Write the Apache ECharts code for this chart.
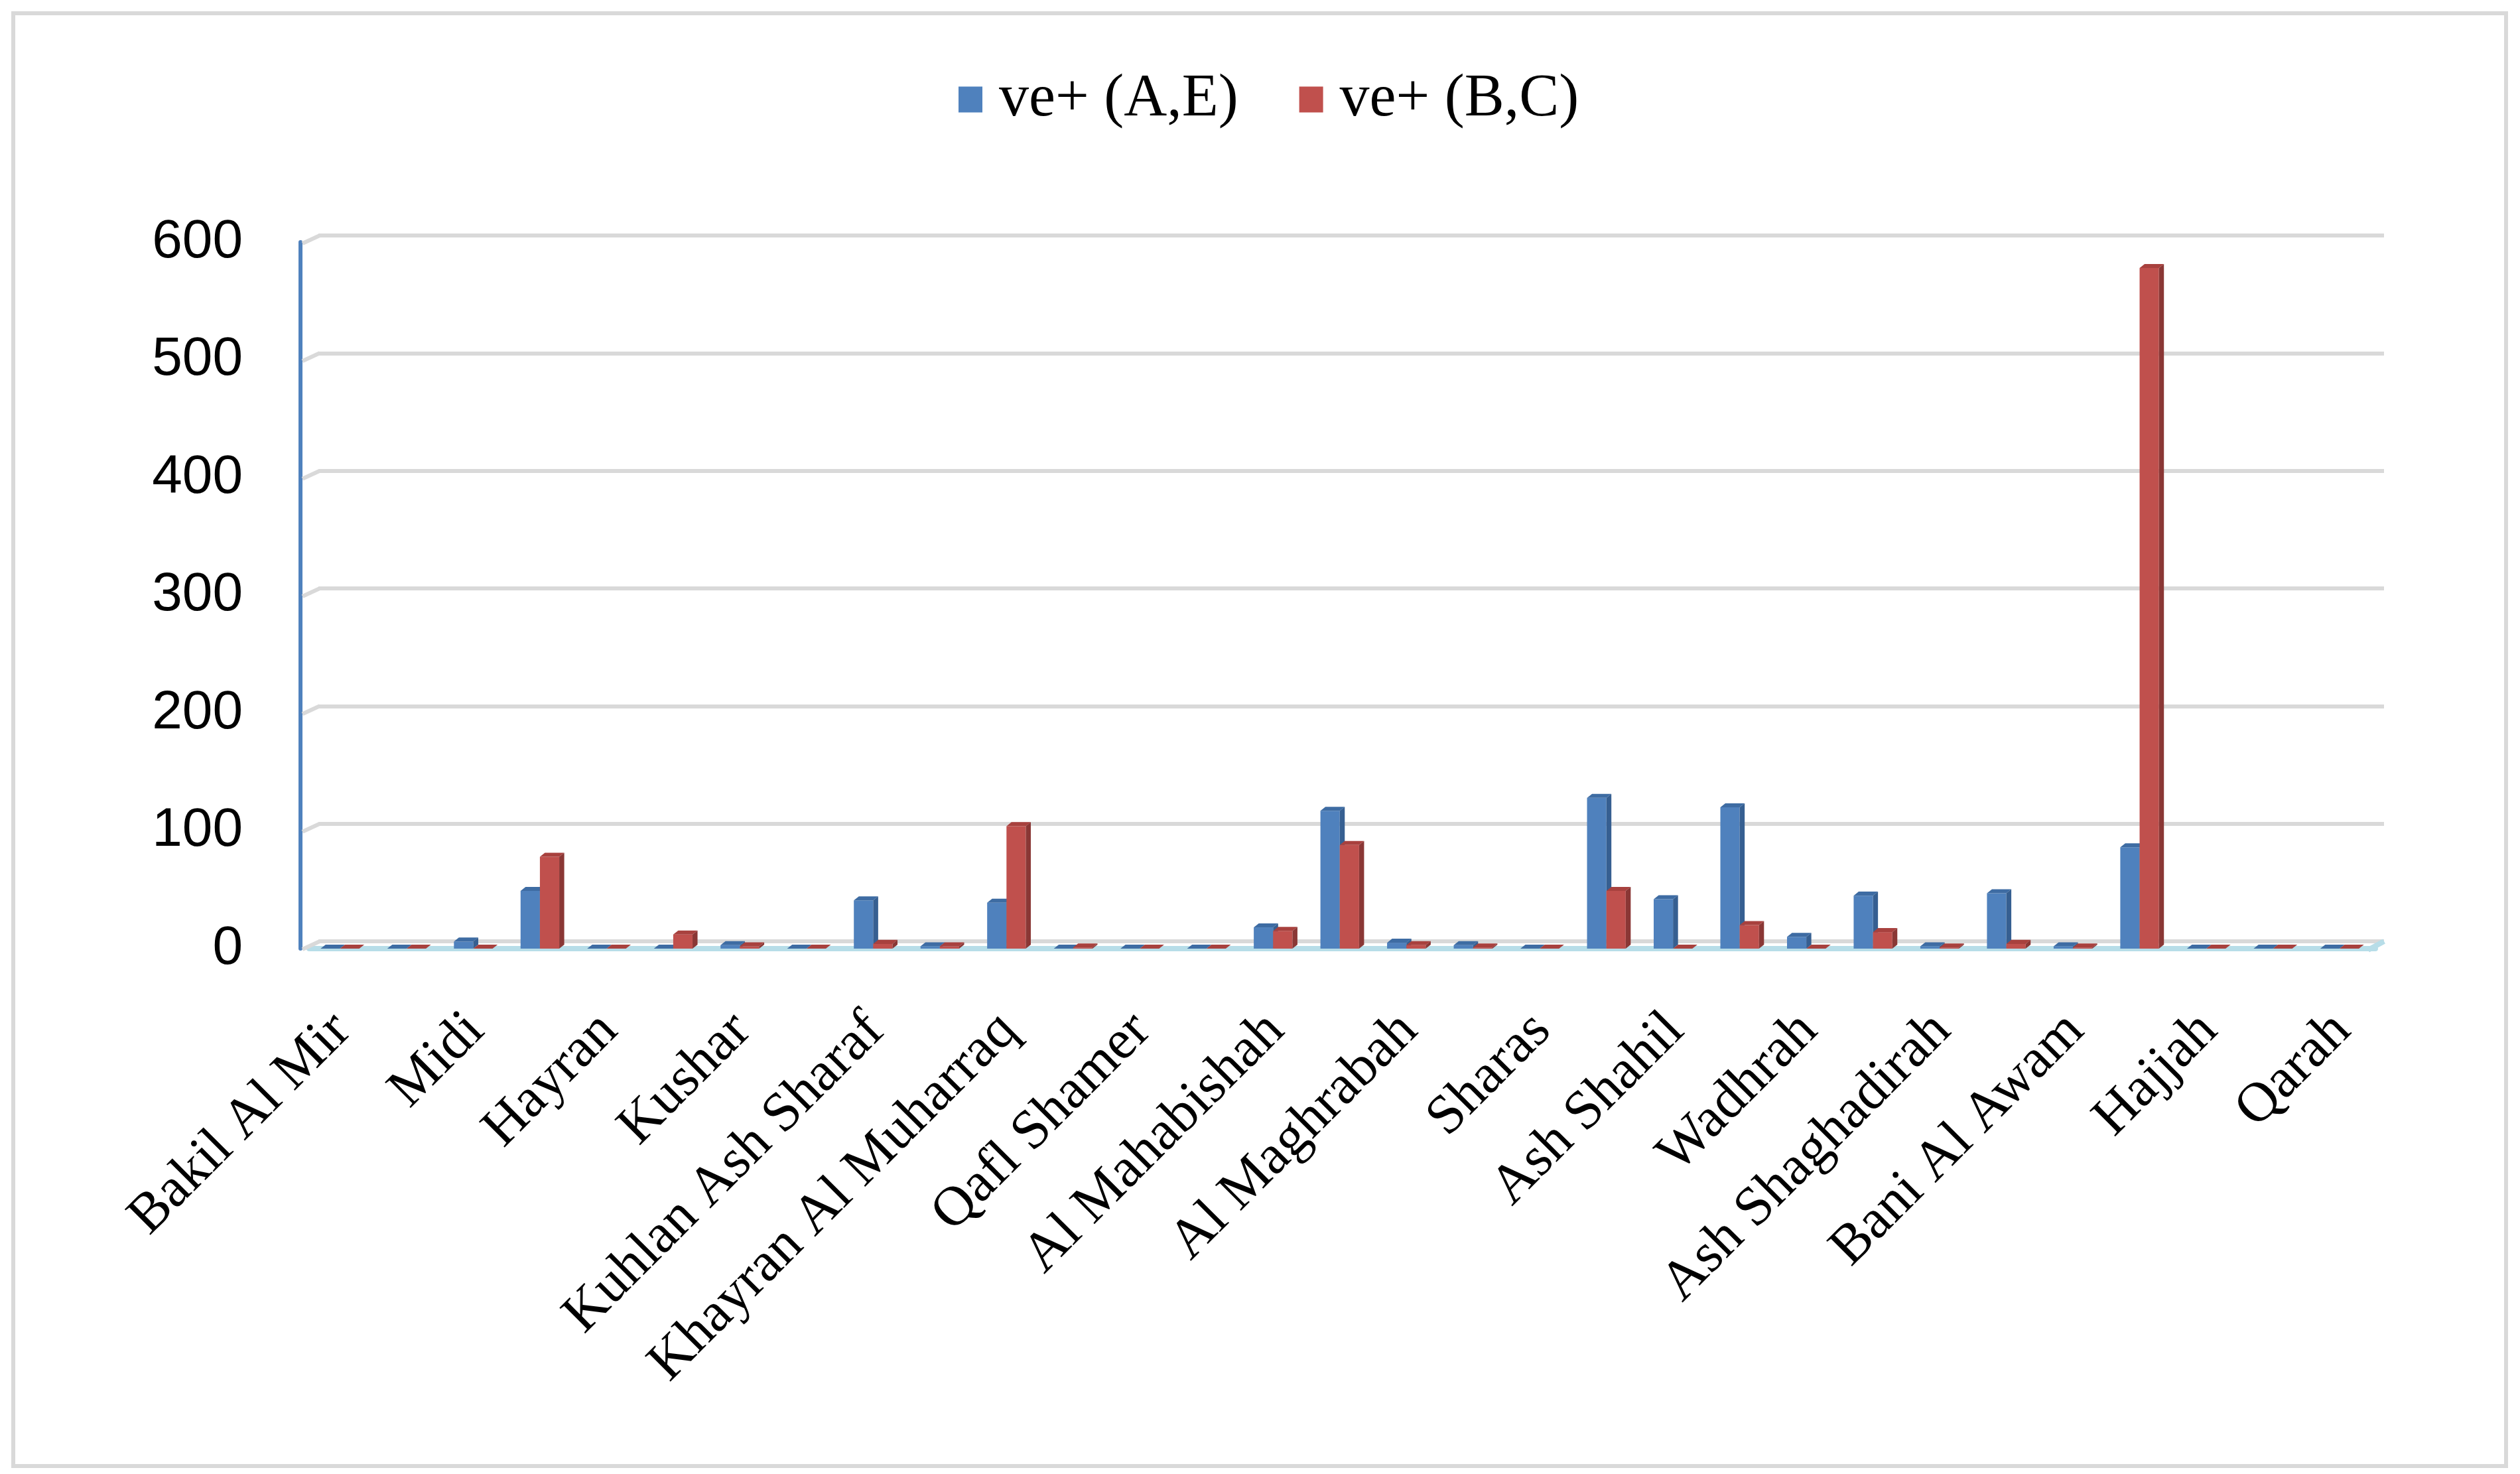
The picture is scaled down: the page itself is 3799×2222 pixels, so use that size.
<!DOCTYPE html>
<html>
<head>
<meta charset="utf-8">
<script src="https://cdn.jsdelivr.net/npm/echarts@6/dist/echarts.min.js"></script>
<style>
html,body{margin:0;padding:0;background:#ffffff;}
#chart{width:3799px;height:2222px;}
</style>
</head>
<body>
<div id="chart"></div>
<script>
// ---- data ----
const categories = [
  'Bakil Al Mir','Harad','Midi','Abs','Hayran','Mustaba','Kushar','Al Jamimah',
  'Kuhlan Ash Sharaf','Aflah Ash Shawm','Khayran Al Muharraq','Aslam','Qafl Shamer',
  'Aflah Al Yaman','Al Mahabishah','Al Miftah','Al Maghrabah','Kuhlan Affar','Sharas',
  'Mabyan','Ash Shahil','Kuaydinah','Wadhrah','Bani Qais','Ash Shaghadirah','Najrah',
  'Bani Al Awam','Hajjah City','Hajjah','Washhah','Qarah'
];
const seriesNames = ['ve+ (A,E)', 've+ (B,C)'];
const valuesAE = [0,0,6,49,0,0,3,0,41,2,39,0,0,0,18,117,5,3,0,128,42,120,10,45,2,47,2,86,0,0,0];
const valuesBC = [0,0,0,78,0,12,2,0,4,2,104,1,0,0,15,88,3,1,0,49,0,20,0,14,1,4,1,578,0,0,0];
const yMin = 0, yMax = 600, yStep = 100;

// ---- 3D-looking bar drawn through the axes ----
function bar3D(slot, front, top, side) {
  return function (params, api) {
    const i = api.value(0), v = api.value(1);
    const p0 = api.coord([i, 0]);
    const p1 = api.coord([i, v]);
    const band = api.size([1, 0])[0];
    const w = band * 0.29;
    const dx = band * 0.075, dy = band * 0.06;
    const cx = p0[0] - dx / 2;
    const x0 = slot === 0 ? cx - w : cx;
    const x1 = x0 + w;
    const yb = p0[1], yt = p1[1];
    return {
      type: 'group',
      children: [
        {type: 'rect', shape: {x: x0, y: yt, width: w, height: yb - yt}, style: {fill: front}},
        {type: 'polygon', shape: {points: [[x0, yt], [x0 + dx, yt - dy], [x1 + dx, yt - dy], [x1, yt]]}, style: {fill: top}},
        {type: 'polygon', shape: {points: [[x1, yt], [x1 + dx, yt - dy], [x1 + dx, yb - dy], [x1, yb]]}, style: {fill: side}}
      ]
    };
  };
}

const chart = echarts.init(document.getElementById('chart'), null, {renderer: 'canvas'});
chart.setOption({
  backgroundColor: '#ffffff',
  animation: false,
  graphic: [{
    type: 'rect', z: -10,
    shape: {x: 20, y: 20, width: 3758, height: 2190},
    style: {fill: 'none', stroke: '#d9d9d9', lineWidth: 6}
  }],
  legend: {
    data: seriesNames,
    left: 1440, top: 100,
    icon: 'rect', itemWidth: 36, itemHeight: 39, itemGap: 92,
    textStyle: {fontFamily: 'Liberation Serif', fontSize: 90, color: '#000', padding: [0, 0, 0, 20]}
  },
  grid: [
    {left: 466, right: 218, top: 365, bottom: 792},
    {left: 480, right: 205, top: 355, bottom: 803}
  ],
  xAxis: [
    {
      type: 'category', gridIndex: 0, data: categories, boundaryGap: true,
      axisLine: {show: true, lineStyle: {color: '#b7dde8', width: 8}},
      axisTick: {show: false},
      axisLabel: {
        interval: 1, rotate: 45, margin: 111, padding: [20, 0, 0, 0],
        fontFamily: 'Liberation Serif', fontSize: 84, color: '#000'
      },
      splitLine: {show: false}
    },
    {
      type: 'value', gridIndex: 1, min: 0, max: 1, show: false
    }
  ],
  yAxis: [
    {
      type: 'value', gridIndex: 0, min: yMin, max: yMax, interval: yStep, offset: 13,
      axisLine: {show: true, lineStyle: {color: '#4f81bd', width: 6}},
      axisTick: {show: false},
      axisLabel: {margin: 87, fontFamily: 'Liberation Sans', fontSize: 82, color: '#000'},
      splitLine: {show: false}
    },
    {
      type: 'value', gridIndex: 1, min: yMin, max: yMax, interval: yStep,
      axisLine: {show: false}, axisTick: {show: false}, axisLabel: {show: false},
      splitLine: {show: true, lineStyle: {color: '#d9d9d9', width: 6}}
    }
  ],
  series: [
    {
      name: seriesNames[0], type: 'custom', xAxisIndex: 0, yAxisIndex: 0,
      itemStyle: {color: '#4f81bd'},
      renderItem: bar3D(0, '#4f81bd', '#3e6ca3', '#365f91'),
      encode: {x: 0, y: 1},
      data: valuesAE.map((v, i) => [i, v])
    },
    {
      name: seriesNames[1], type: 'custom', xAxisIndex: 0, yAxisIndex: 0,
      itemStyle: {color: '#c0504d'},
      renderItem: bar3D(1, '#c0504d', '#a8413e', '#8a3735'),
      encode: {x: 0, y: 1},
      data: valuesBC.map((v, i) => [i, v])
    }
  ]
});

// slanted starts of the back-wall gridlines (placed through the axis scale)
const slants = [];
for (let v = yMin; v <= yMax; v += yStep) {
  const y = chart.convertToPixel({yAxisIndex: 1}, v);
  slants.push({
    type: 'line', z: 1,
    shape: {x1: 456, y1: y + 12, x2: 482, y2: y},
    style: {stroke: '#d9d9d9', lineWidth: 6}
  });
}
const yBack0 = chart.convertToPixel({yAxisIndex: 1}, 0);
const yFront0 = chart.convertToPixel({yAxisIndex: 0}, 0);
slants.push({
  type: 'line', z: 1,
  shape: {x1: 3570, y1: yFront0 + 2, x2: 3594, y2: yBack0},
  style: {stroke: '#b7dde8', lineWidth: 8}
});
chart.setOption({graphic: slants.map((g, k) => Object.assign({id: 'sl' + k}, g))});
</script>
</body>
</html>
